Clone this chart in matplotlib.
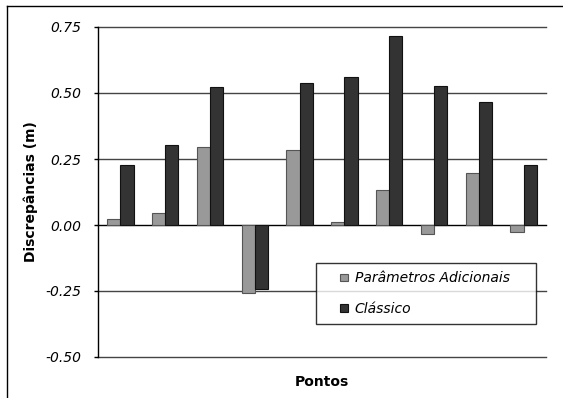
import matplotlib
matplotlib.use("Agg")
import matplotlib.pyplot as plt
import numpy as np
from matplotlib.lines import Line2D
from matplotlib.patches import Rectangle
from matplotlib.container import BarContainer
from matplotlib.legend_handler import HandlerPatch

# discrepancies per point (m)
pontos = np.arange(1, 11)
param_adicionais = [0.023, 0.044, 0.296, -0.258, 0.283, 0.010, 0.133, -0.035, 0.197, -0.026]
classico = [0.228, 0.303, 0.524, -0.244, 0.539, 0.560, 0.717, 0.528, 0.465, 0.228]
yticks = [-0.50, -0.25, 0.00, 0.25, 0.50, 0.75]

plt.rcParams["font.family"] = ["DejaVu Sans"]
fig = plt.figure(figsize=(5.63, 3.98), dpi=100)
ax = fig.add_axes([98 / 563, 1 - 357 / 398, 448 / 563, 330 / 398])

w = 0.295
ax.bar(pontos - w / 2, param_adicionais, w, color="#999999", edgecolor="#555555",
       linewidth=0.8, label="Parâmetros Adicionais", zorder=3)
ax.bar(pontos + w / 2, classico, w, color="#333333", edgecolor="#111111",
       linewidth=0.8, label="Clássico", zorder=3)

ax.set_xlim(0.5, 10.5)
ax.set_ylim(-0.5, 0.75)
ax.set_yticks(yticks)
ax.set_yticklabels([f"{v:.2f}" for v in yticks], style="italic", fontsize=10)
ax.set_xticks([])
for y in yticks:
    ax.axhline(y, color="#444444" if y != 0 else "black", linewidth=1.0, zorder=1,
               clip_on=False)
for s in ["top", "right", "bottom"]:
    ax.spines[s].set_visible(False)
ax.spines["left"].set_linewidth(1.0)
ax.tick_params(axis="y", length=3, width=1, pad=9)

ax.set_ylabel("Discrepâncias (m)", fontsize=10, fontweight="bold", labelpad=5)
ax.set_xlabel("Pontos", fontsize=10, fontweight="bold", labelpad=13)


# small square key drawn at the right end of a wider handle slot
def square_key(legend, orig_handle, xdescent, ydescent, width, height, fontsize):
    s = 7.5 * 72 / fig.dpi
    return Rectangle((width - s - xdescent, (height - s) / 2 - ydescent), s, s)


def first_bar_style(legend_handle, orig_handle):
    legend_handle.update_from(orig_handle[0])


box = ((316 - 98) / 448, (357 - 324) / 330, 220 / 448, 61 / 330)
leg = ax.legend(loc="upper left", bbox_to_anchor=box, mode="expand",
                frameon=True, fancybox=False, prop={"style": "italic", "size": 10},
                handlelength=1.7, handleheight=0.7, handletextpad=0.5, borderpad=0.6,
                labelspacing=1.2, borderaxespad=0,
                handler_map={BarContainer: HandlerPatch(patch_func=square_key,
                                                        update_func=first_bar_style)})
leg.get_frame().set_edgecolor("black")
leg.get_frame().set_linewidth(1.0)
leg.set_zorder(5)

# outer frame lines
fig.add_artist(Line2D([7 / 563, 7 / 563], [0, 1 - 6 / 398], color="black", linewidth=1.0))
fig.add_artist(Line2D([7 / 563, 1], [1 - 6 / 398, 1 - 6 / 398], color="black", linewidth=1.0))

fig.savefig("out.png", dpi=100)
